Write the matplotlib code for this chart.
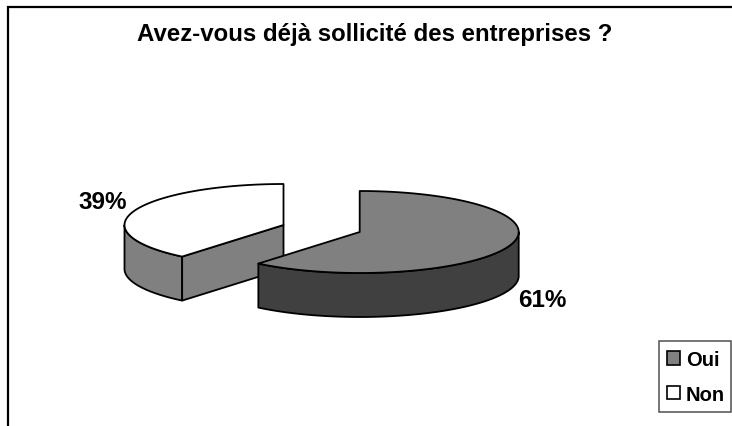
import matplotlib
matplotlib.use('Agg')
import matplotlib.pyplot as plt
from matplotlib.patches import Patch, Polygon, Rectangle
import numpy as np

plt.rcParams['font.family'] = ['Liberation Sans', 'DejaVu Sans']

# Data
title = 'Avez-vous déjà sollicité des entreprises ?'
labels = ['Oui', 'Non']
values = [61, 39]
value_labels = ['61%', '39%']

# Slice colours
top_colors = ['#808080', '#ffffff']
side_colors = ['#404040', '#808080']

# Pie geometry in pixels
centers = [(359.7, 233), (283.5, 226)]
rx, ry, depth = 159, 41, 44
edge = dict(edgecolor='black', linewidth=1.3, joinstyle='round')


def arc(center, a1, a2, n=100):
    t = np.radians(np.linspace(a1, a2, n))
    return np.column_stack([center[0] + rx * np.cos(t), center[1] - ry * np.sin(t)])


def draw_slice(ax, center, a1, a2, top, side):
    # outer wall, only the front half of the ellipse can be seen
    f1, f2 = max(a1, 180), min(a2, 360)
    if f2 > f1:
        upper = arc(center, f1, f2)
        lower = upper[::-1] + [0, depth]
        ax.add_patch(Polygon(np.vstack([upper, lower]), facecolor=side, **edge))
    # cut face, visible when it looks towards the viewer
    if a1 < 180 and 180 < a2 < 270:
        end = arc(center, a2, a2, 1)[0]
        c = np.array(center)
        face = [c, end, end + [0, depth], c + [0, depth]]
        ax.add_patch(Polygon(face, facecolor=side, **edge))
    points = np.vstack([[center], arc(center, a1, a2)])
    ax.add_patch(Polygon(points, facecolor=top, **edge))


fig = plt.figure(figsize=(7.32, 4.27), dpi=100)
ax = fig.add_axes([0, 0, 1, 1])
ax.set_xlim(0, 732)
ax.set_ylim(427, 0)
ax.axis('off')

# Chart frame, cut off on the right and at the bottom
ax.plot([8, 8, 732], [427, 8, 8], color='black', lw=1.6, solid_joinstyle='miter')

# Slice angles come from the values: Oui runs clockwise from 12 o'clock
sweep = [v / sum(values) * 360 for v in values]
split = 90 + sweep[1]
draw_slice(ax, centers[1], 90, split, top_colors[1], side_colors[1])
draw_slice(ax, centers[0], split, 450, top_colors[0], side_colors[0])

ax.text(374.5, 34, title, ha='center', va='center', fontsize=17.3, fontweight='bold')
ax.text(542, 301, value_labels[0], ha='center', va='center', fontsize=17.5, fontweight='bold')
ax.text(102.5, 203, value_labels[1], ha='center', va='center', fontsize=17.5, fontweight='bold')

# Legend box is drawn apart so it stops just inside the right edge
ax.add_patch(Rectangle((659, 342), 72, 71, facecolor='white', edgecolor='#505050', linewidth=1.1))
handles = [Patch(facecolor=c, edgecolor='black', linewidth=1.2) for c in top_colors]
ax.legend(handles, labels, loc='upper left', bbox_to_anchor=(666.5 / 732, 1 - 351 / 427),
          borderaxespad=0, frameon=False, borderpad=0,
          prop={'size': 14.5, 'weight': 'bold'}, handlelength=0.66, handleheight=0.66,
          handletextpad=0.3, labelspacing=0.78)

fig.savefig('out.png', dpi=100)
